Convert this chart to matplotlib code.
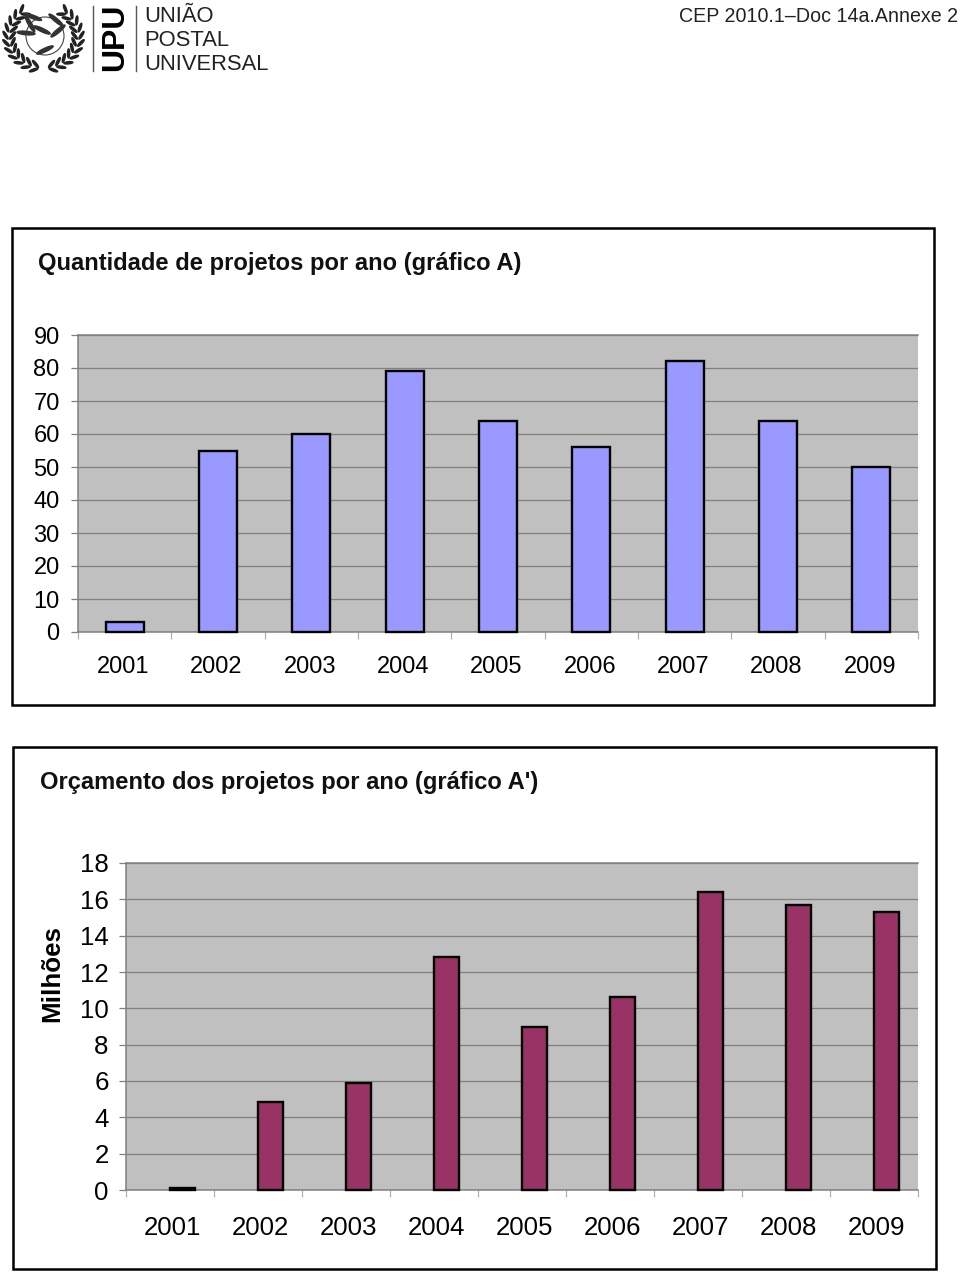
import matplotlib
matplotlib.use("Agg")
import matplotlib.pyplot as plt
from matplotlib.patches import Rectangle, Ellipse, Circle
import numpy as np

plt.rcParams["font.family"] = ["Liberation Sans", "DejaVu Sans"]

anos = ["2001", "2002", "2003", "2004", "2005", "2006", "2007", "2008", "2009"]
quantidade = [3, 55, 60, 79, 64, 56, 82, 64, 50]
orcamento = [0.1, 4.85, 5.9, 12.8, 9.0, 10.6, 16.4, 15.7, 15.3]
ticks_a = [0, 10, 20, 30, 40, 50, 60, 70, 80, 90]
ticks_b = [0, 2, 4, 6, 8, 10, 12, 14, 16, 18]

W = 960
H = 1272
fig = plt.figure(figsize=(W / 100, H / 100), dpi=100, facecolor="white")


def box(x0, y0, x1, y1):
    # pixels da imagem (y para baixo) -> figura
    return [x0 / W, 1 - y1 / H, (x1 - x0) / W, (y1 - y0) / H]


def txt(x, y, s, **kw):
    fig.text(x / W, 1 - y / H, s, **kw)


def grafico(pos, valores, yticks, ymax, cor, largura, fs, desvio, desvio_txt, pad_y):
    ax = fig.add_axes(box(*pos), facecolor="#c0c0c0", zorder=2)
    x = np.arange(len(valores))
    ax.bar(x + desvio, valores, width=largura, color=cor, edgecolor="black", linewidth=1.7, zorder=3, clip_on=False)
    ax.set_xlim(-0.5, len(valores) - 0.5)
    ax.set_ylim(0, ymax)
    ax.set_yticks(yticks)
    ax.tick_params(axis="y", length=5, width=0.9, color="#808080", labelsize=fs, pad=pad_y, labelcolor="black")
    ax.yaxis.grid(True, color="#808080", linewidth=0.9, zorder=1)
    ax.set_axisbelow(True)
    ax.set_xticks(np.arange(len(valores) + 1) - 0.5)
    ax.set_xticklabels([])
    ax.tick_params(axis="x", which="major", length=5, width=0.9, color="#b0b0b0")
    ax.set_xticks(x + desvio_txt, minor=True)
    ax.set_xticklabels(anos, minor=True, fontsize=fs)
    ax.tick_params(axis="x", which="minor", length=0, pad=fs)
    for s in ["top", "left", "bottom"]:
        ax.spines[s].set_color("#808080")
        ax.spines[s].set_linewidth(1.1)
    ax.spines["right"].set_visible(False)
    return ax


# molduras
for x0, y0, x1, y1 in [(12, 228, 934, 705), (13, 747, 936, 1269)]:
    fig.add_artist(Rectangle((x0 / W, 1 - y1 / H), (x1 - x0) / W, (y1 - y0) / H,
                             transform=fig.transFigure, fill=False, edgecolor="black", linewidth=1.8))

txt(38, 264, "Quantidade de projetos por ano (gráfico A)", fontsize=17.15, fontweight="bold", va="center", color="#111111")
txt(40, 782, "Orçamento dos projetos por ano (gráfico A')", fontsize=17.15, fontweight="bold", va="center", color="#111111")
txt(52, 974, "Milhões", fontsize=18.7, fontweight="bold", rotation=90, va="center", ha="center")

grafico((78, 335, 918, 632), quantidade, ticks_a, 90, "#9999ff", 0.41, 17, 0, -0.015, 8.2)
grafico((126, 863, 918, 1190), orcamento, ticks_b, 18, "#993366", 0.28, 18.6, 0.14, 0.025, 7.5)

# cabecalho
txt(144, 16, "UNIÃO", fontsize=15.85, va="center", color="#222222")
txt(144, 40, "POSTAL", fontsize=15.85, va="center", color="#222222")
txt(144, 64, "UNIVERSAL", fontsize=15.85, va="center", color="#222222")
txt(958, 16, "CEP 2010.1–Doc 14a.Annexe 2", fontsize=14.15, va="center", ha="right", color="#222222")
txt(115, 37, "UPU", fontsize=23, fontweight="bold", rotation=90, va="center", ha="center")
for xl in [93, 136]:
    fig.add_artist(plt.Line2D([xl / W, xl / W], [1 - 6 / H, 1 - 71 / H], color="#555555", linewidth=1))

# emblema (so aproximado)
logo = fig.add_axes(box(0, 0, 90, 75))
logo.set_xlim(0, 90)
logo.set_ylim(75, 0)
logo.axis("off")
logo.add_patch(Circle((45, 36), 19, fill=False, edgecolor="#444444", linewidth=0.8))
for ang in np.arange(-55, 82, 13):
    r = np.radians(ang)
    for lado in [-1, 1]:
        for raio, incl in [(38, 35), (31, -35)]:
            logo.add_patch(Ellipse((43.5 + lado * raio * np.cos(r), 37 + raio * 0.9 * np.sin(r)), 9, 2.2,
                                   angle=lado * (ang + 90 + incl), color="#222222"))
for (ex, ey, ang) in [(33, 17, 20), (26, 33, 5), (42, 30, 25), (58, 31, -40), (45, 50, -25), (56, 20, 40), (30, 24, 60)]:
    logo.add_patch(Ellipse((ex, ey), 18, 3.5, angle=ang, color="#333333"))

fig.savefig("out.png", dpi=100)
